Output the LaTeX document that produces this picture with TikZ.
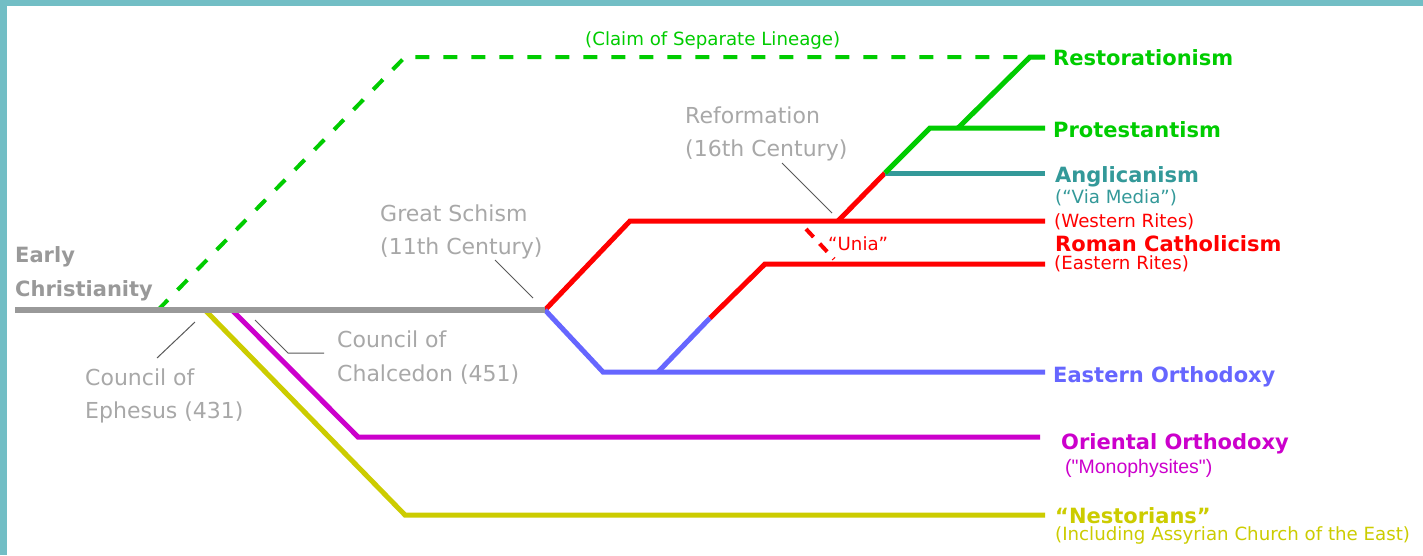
\documentclass[tikz,border=0pt]{standalone}
\usepackage{fontspec}
\setmainfont{DejaVu Sans}
\newfontfamily\arialfont{Liberation Sans}
\definecolor{frame}{HTML}{72BEC5}
\definecolor{lgrey}{HTML}{999999}
\definecolor{tgrey}{HTML}{A8A8A8}
\definecolor{lgreen}{HTML}{00CC00}
\definecolor{lteal}{HTML}{339999}
\definecolor{lred}{HTML}{FF0000}
\definecolor{lblue}{HTML}{6666FF}
\definecolor{lmag}{HTML}{CC00CC}
\definecolor{lyel}{HTML}{CCCC00}
\begin{document}
\begin{tikzpicture}[x=1pt,y=-1pt,
  branch/.style={line width=5pt, line join=miter, line cap=butt},
  dashbranch/.style={line width=4pt, dash pattern=on 14pt off 14pt},
  leader/.style={line width=1pt, draw=black!65},
  lbl/.style={anchor=base west, inner sep=0pt},
  bigb/.style={lbl, font=\fontsize{21}{24}\selectfont\bfseries},
  gtxt/.style={lbl, text=tgrey, font=\fontsize{22}{26}\selectfont},
  small/.style={lbl, font=\fontsize{18.2}{20}\selectfont},
]
\useasboundingbox (0,0) rectangle (1423,555);
\fill[white] (0,0) rectangle (1423,555);
\fill[frame] (0,0) rectangle (1423,6);
\fill[frame] (0,0) rectangle (7,555);

% coordinates
\coordinate (o) at (15,310);
\coordinate (gs) at (545,310);
\coordinate (d0) at (158,310);
\coordinate (d1) at (405,57);
\coordinate (dE) at (1040,57);
\coordinate (nest0) at (205,310);
\coordinate (yelC) at (405,515);
\coordinate (yelE) at (1045,515);
\coordinate (mono0) at (232,310);
\coordinate (magC) at (358,437);
\coordinate (magE) at (1040,437);
\coordinate (rcC) at (630,221);
\coordinate (ref) at (838,221);
\coordinate (wrE) at (1045,221);
\coordinate (angl) at (885,173);
\coordinate (anglE) at (1045,173);
\coordinate (protC) at (930,128);
\coordinate (protE) at (1045,128);
\coordinate (restB) at (958,128);
\coordinate (restC) at (1030,57);
\coordinate (restE) at (1045,57);
\coordinate (eoC) at (603,372);
\coordinate (eoB) at (658,372);
\coordinate (eoE) at (1045,372);
\coordinate (uniaM) at (710,318);
\coordinate (erC) at (765,264);
\coordinate (erE) at (1045,264);
\coordinate (u1) at (806,229);
\coordinate (u2) at (834,259);

% branches
\draw[lgreen, dashbranch] (d0) -- (d1) -- (dE);
\draw[lyel, branch] (nest0) -- (yelC) -- (yelE);
\draw[lmag, branch] (mono0) -- (magC) -- (magE);
\draw[lred, branch] (gs) -- (rcC) -- (wrE);
\draw[lred, branch] (ref) -- (angl);
\draw[lteal, branch] (angl) -- (anglE);
\draw[lgreen, branch] (angl) -- (protC) -- (protE);
\draw[lgreen, branch] (restB) -- (restC) -- (restE);
\draw[lblue, branch] (gs) -- (eoC) -- (eoE);
\draw[lblue, branch] (eoB) -- (uniaM);
\draw[lred, branch] (uniaM) -- (erC) -- (erE);
\draw[lred, line width=4pt, dash pattern=on 11pt off 9pt] (u1) -- (u2);
\draw[lgrey, line width=6pt] (o) -- (gs);

% leaders
\coordinate (le1) at (195,322); \coordinate (le2) at (157,358);
\draw[leader] (le1) -- (le2);
\coordinate (lc1) at (255,320); \coordinate (lc2) at (288,353); \coordinate (lc3) at (324,353);
\draw[leader] (lc1) -- (lc2) -- (lc3);
\coordinate (lg1) at (495,260); \coordinate (lg2) at (533,298);
\draw[leader] (lg1) -- (lg2);
\coordinate (lr1) at (782,163); \coordinate (lr2) at (832,213);
\draw[leader] (lr1) -- (lr2);

% grey labels
\node[lbl, text=lgrey, font=\fontsize{21}{24}\selectfont\bfseries] (early1) at (15,262) {Early};
\node[lbl, text=lgrey, font=\fontsize{21}{24}\selectfont\bfseries] (early2) at (15,296) {Christianity};
\node[gtxt] (eph1) at (85,385) {Council of};
\node[gtxt] (eph2) at (85,418) {Ephesus (431)};
\node[gtxt] (chal1) at (337,347) {Council of};
\node[gtxt] (chal2) at (337,381) {Chalcedon (451)};
\node[gtxt] (gs1) at (380,221) {Great Schism};
\node[gtxt] (gs2) at (380,254) {(11th Century)};
\node[gtxt] (rf1) at (685,123) {Reformation};
\node[gtxt] (rf2) at (685,156) {(16th Century)};
\node[small, text=lgreen] (claim) at (585,45) {(Claim of Separate Lineage)};
\node[small, text=lred] (unia) at (828,250) {“Unia”};

% right labels
\node[bigb, text=lgreen] (rest) at (1053,65) {Restorationism};
\node[bigb, text=lgreen] (prot) at (1053,137) {Protestantism};
\node[bigb, text=lteal] (angt) at (1055,182) {Anglicanism};
\node[small, text=lteal] (via) at (1055,203) {(“Via Media”)};
\node[small, text=lred] (west) at (1054,227) {(Western Rites)};
\node[bigb, text=lred, text depth=0pt] (rc) at (1055,251) {Roman Catholicism};
\node[small, text=lred, text height=12pt] (east) at (1054,269) {(Eastern Rites)};
\node[bigb, text=lblue] (eo) at (1053,382) {Eastern Orthodoxy};
\node[bigb, text=lmag] (oo) at (1061,449) {Oriental Orthodoxy};
\node[lbl, text=lmag, font=\arialfont\fontsize{19.5}{21}\selectfont] (mono) at (1065,473) {("Monophysites")};
\node[bigb, text=lyel] (nest) at (1055,523) {“Nestorians”};
\node[small, text=lyel] (incl) at (1055,540) {(Including Assyrian Church of the East)};
\end{tikzpicture}
\end{document}
